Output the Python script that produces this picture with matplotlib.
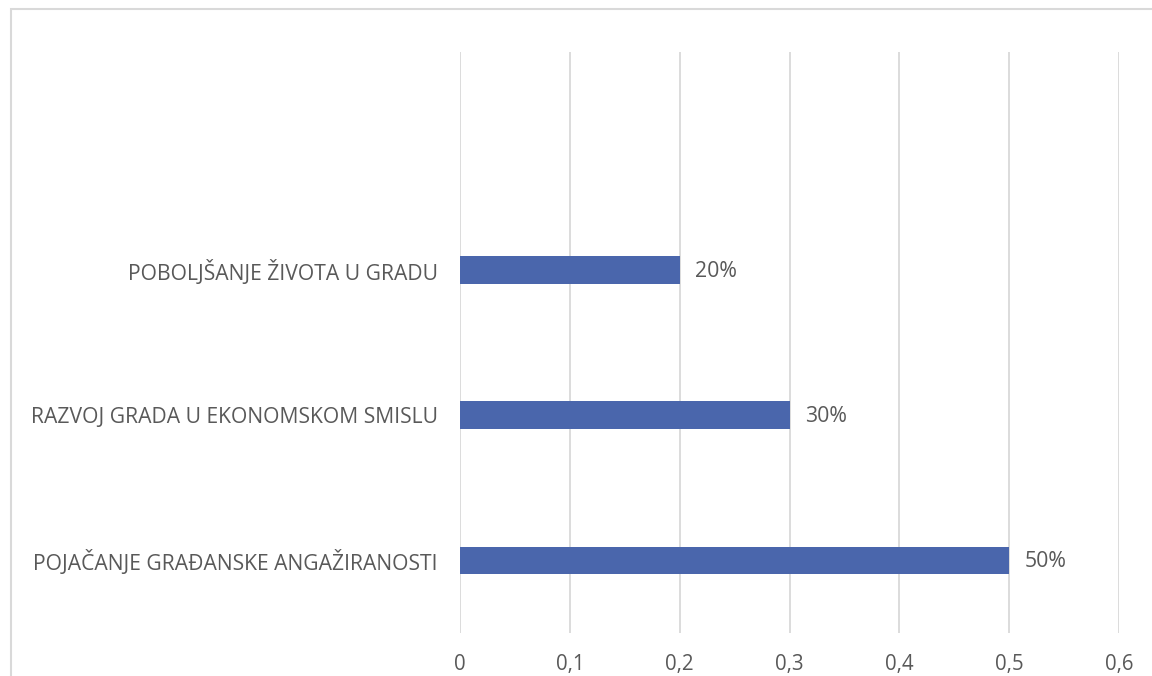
import matplotlib.pyplot as plt
from matplotlib.patches import Rectangle
from matplotlib.ticker import FuncFormatter

kategorije = ['POJAČANJE GRAĐANSKE ANGAŽIRANOSTI',
              'RAZVOJ GRADA U EKONOMSKOM SMISLU',
              'POBOLJŠANJE ŽIVOTA U GRADU']
vrijednosti = [0.5, 0.3, 0.2]
oznake = ['50%', '30%', '20%']
xticks = [0, 0.1, 0.2, 0.3, 0.4, 0.5, 0.6]

plt.rcParams['font.family'] = ['Open Sans', 'DejaVu Sans']
siva = '#595959'

fig = plt.figure(figsize=(11.52, 6.76), dpi=100)
ax = fig.add_axes([460/1152, 1 - 633/676, (1119-460)/1152, (633-52)/676])

# okvir grafikona
fig.patches.append(Rectangle((11/1152, -0.1), 1.2, 1 - 9/676 + 0.1,
                             transform=fig.transFigure, fill=False,
                             edgecolor='#d9d9d9', linewidth=1.5))

y = range(len(kategorije))
ax.barh(y, vrijednosti, height=0.19, color='#4a66ac', zorder=3)
for i, v in enumerate(vrijednosti):
    ax.annotate(oznake[i], (v, i), xytext=(11, -1), textcoords='offset points',
                va='center', ha='left', fontsize=15.3, color=siva)

ax.set_ylim(-0.5, 3.5)
ax.set_xlim(0, 0.6)
ax.set_xticks(xticks)
ax.xaxis.set_major_formatter(FuncFormatter(lambda v, p: ('%g' % v).replace('.', ',')))
ax.set_yticks(list(y))
ax.set_yticklabels(kategorije)
ax.tick_params(axis='y', length=0, pad=16, labelsize=15.2, labelcolor=siva)
ax.tick_params(axis='x', length=0, pad=15, labelsize=14.8, labelcolor=siva)
ax.grid(axis='x', color='#d9d9d9', linewidth=1.3, zorder=0)
for s in ax.spines.values():
    s.set_visible(False)

plt.savefig('out.png', dpi=100)
